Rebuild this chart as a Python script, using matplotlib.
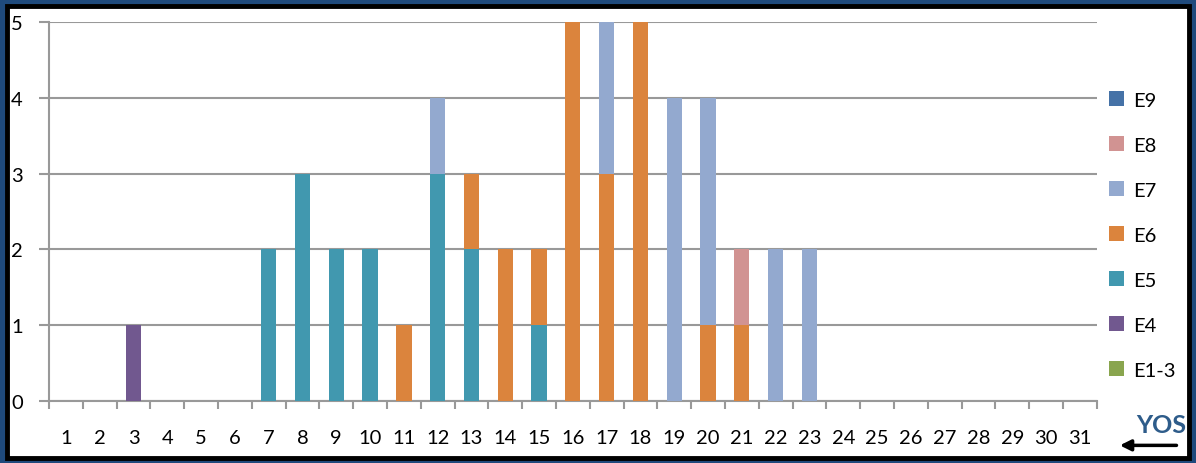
import numpy as np
import matplotlib.pyplot as plt
from matplotlib.patches import Rectangle, Patch, FancyArrowPatch

plt.rcParams['font.family'] = ['Lato', 'DejaVu Sans']

yos = list(range(1, 32))
series = ['E1-3', 'E4', 'E5', 'E6', 'E7', 'E8', 'E9']
colors = ['#89A54E', '#71588F', '#4198AF', '#DB843D', '#93A9CF', '#D19392', '#4572A7']

e13 = [0] * 31
e4 = [0, 0, 1] + [0] * 28
e5 = [0, 0, 0, 0, 0, 0, 2, 3, 2, 2, 0, 3, 2, 0, 1] + [0] * 16
e6 = [0] * 10 + [1, 0, 1, 2, 1, 5, 3, 5, 0, 1, 1] + [0] * 10
e7 = [0] * 11 + [1, 0, 0, 0, 0.05, 2, 0, 4, 3, 0, 2, 2] + [0] * 8
e8 = [0] * 20 + [1] + [0] * 10
e9 = [0] * 31
values = [e13, e4, e5, e6, e7, e8, e9]

fig = plt.figure(figsize=(11.96, 4.64), dpi=100)
fig.patch.set_facecolor('#1f4a7c')
fig.patches.append(Rectangle((0.006, 0.01), 0.988, 0.975, transform=fig.transFigure,
                             facecolor='white', edgecolor='black', linewidth=3.5, zorder=-10))

ax = fig.add_axes([0.041, 0.1336, 0.876, 0.8168])
ax.set_facecolor('none')

x = np.array(yos)
bottom = np.zeros(31)
for name, col, vals in zip(series, colors, values):
    ax.bar(x, vals, bottom=bottom, width=0.45, color=col, label=name, zorder=3)
    bottom += np.array(vals)

ax.set_xlim(0.5, 31.5)
ax.set_ylim(0, 5)
ax.set_yticks(range(0, 6))
ax.yaxis.grid(True, color='#999999', linewidth=1.5, zorder=0)
ax.set_axisbelow(True)
for s in ['top', 'right']:
    ax.spines[s].set_visible(False)
for s in ['left', 'bottom']:
    ax.spines[s].set_color('#999999')
    ax.spines[s].set_linewidth(1.5)

ax.set_xticks(np.arange(0.5, 32, 1))
ax.set_xticklabels([])
ax.set_xticks(x, minor=True)
ax.set_xticklabels([str(v) for v in yos], minor=True, fontsize=14.5)
ax.tick_params(axis='x', which='major', length=6, width=1.5, color='#999999', direction='out')
ax.tick_params(axis='x', which='minor', length=0, pad=20)
ax.tick_params(axis='y', length=7, width=1.5, color='#999999', labelsize=14.5, pad=12)

handles = [Patch(facecolor=c, label=n) for n, c in zip(series, colors)][::-1]
fig.legend(handles=handles, loc='upper left', bbox_to_anchor=(0.912, 0.84),
           frameon=False, fontsize=14.5, handlelength=0.75, handleheight=0.75,
           handletextpad=0.45, labelspacing=1.37)

fig.text(0.971, 0.067, 'YOS', color='#2e5c8a', fontsize=18, fontweight='bold', ha='center')
fig.patches.append(FancyArrowPatch(
    (0.986, 0.038), (0.934, 0.038), transform=fig.transFigure,
    arrowstyle='-|>', mutation_scale=16, color='black', linewidth=2.5))

fig.savefig('out.png', dpi=100)
